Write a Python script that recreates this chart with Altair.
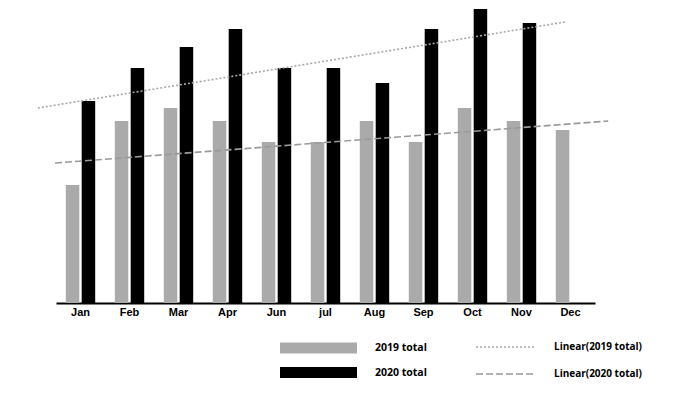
import altair as alt
import pandas as pd

months = ["Jan", "Feb", "Mar", "Apr", "Jun", "jul", "Aug", "Sep", "Oct", "Nov", "Dec"]
total_2019 = [118, 182, 195, 182, 161, 161, 182, 161, 195, 182, 173]
total_2020 = [202, 235, 256, 274, 235, 235, 220, 274, 294, 280, None]
series_names = ["2019 total", "2020 total"]

trend_names = ["Linear(2019 total)", "Linear(2020 total)"]
trend_x_start = [-0.37, -0.02]
trend_x_end = [10.39, 11.27]
trend_y_start = [195, 140]
trend_y_end = [281, 182]

rows = []
for m, a, b in zip(months, total_2019, total_2020):
    rows.append({"month": m, "series": series_names[0], "value": a})
    if b is not None:
        rows.append({"month": m, "series": series_names[1], "value": b})
bar_df = pd.DataFrame(rows)

trows = []
for n, x0, x1, y0, y1 in zip(trend_names, trend_x_start, trend_x_end, trend_y_start, trend_y_end):
    trows.append({"trend": n, "pos": x0, "value": y0})
    trows.append({"trend": n, "pos": x1, "value": y1})
trend_df = pd.DataFrame(trows)

FONT = "Open Sans"
AXIS_FONT = "Liberation Sans"

line_legend = dict(title=None, orient="none", legendX=419, legendY=333,
                   symbolType="stroke", symbolSize=3600, clipHeight=12,
                   symbolStrokeWidth=1.6, labelOffset=17, rowPadding=15,
                   labelFont=FONT, labelFontWeight="bold", labelFontSize=10,
                   labelColor="black", padding=0)

bars = alt.Chart(bar_df).mark_bar().encode(
    x=alt.X("month:N", sort=months,
            scale=alt.Scale(paddingInner=0.4, paddingOuter=0.2),
            axis=alt.Axis(title=None, labelAngle=0, ticks=False, domainColor="black",
                          domainWidth=2, labelFont=AXIS_FONT, labelFontWeight="bold",
                          labelFontSize=11, labelColor="black", labelPadding=3)),
    xOffset=alt.XOffset("series:N", sort=series_names, scale=alt.Scale(paddingInner=0.15)),
    y=alt.Y("value:Q", scale=alt.Scale(domain=[0, 295]), axis=None),
    fill=alt.Fill("series:N",
                  scale=alt.Scale(domain=series_names, range=["#aaaaaa", "#000000"]),
                  legend=alt.Legend(title=None, orient="none", legendX=224, legendY=334,
                                    symbolType="M-1,-0.14H1V0.14H-1Z", symbolSize=5929,
                                    clipHeight=12,
                                    symbolStrokeWidth=0, labelOffset=18, rowPadding=12.5,
                                    labelFont=FONT, labelFontWeight="bold", labelFontSize=10.5,
                                    labelColor="black", padding=0)),
)

lines = alt.Chart(trend_df).mark_line(strokeWidth=1.6).encode(
    x=alt.X("pos:Q", scale=alt.Scale(domain=[0, 11], nice=False, zero=False), axis=None),
    y=alt.Y("value:Q", scale=alt.Scale(domain=[0, 295]), axis=None),
    stroke=alt.Stroke("trend:N",
                      scale=alt.Scale(domain=trend_names, range=["#a8a8a8", "#9a9a9a"]),
                      legend=alt.Legend(**line_legend)),
    strokeDash=alt.StrokeDash("trend:N",
                              scale=alt.Scale(domain=trend_names, range=[[2, 2], [7, 3]]),
                              legend=alt.Legend(**line_legend)),
    detail="trend:N",
)

chart = alt.layer(bars, lines).resolve_scale(x="independent").properties(
    width=539, height=295,
    background="white",
    autosize=alt.AutoSizeParams(type="none"),
    padding={"left": 48, "top": 0, "right": 90, "bottom": 82},
).configure_view(strokeWidth=0, stroke="transparent")

chart.save("out.html", embed_options={"renderer": "svg", "actions": False})
